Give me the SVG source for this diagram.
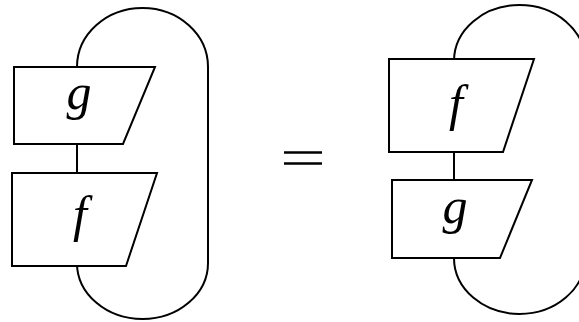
<svg xmlns="http://www.w3.org/2000/svg" width="579" height="322" viewBox="0 0 579 322">
<style>
.box{fill:#fff;stroke:#000;stroke-width:2}
.wire{fill:none;stroke:#000;stroke-width:2}
.eq{fill:none;stroke:#000;stroke-width:2.5}
.lbl{font-family:'Liberation Serif','DejaVu Serif',serif;font-style:italic;font-size:50px;text-anchor:middle;fill:#000}
</style>
<rect width="579" height="322" fill="#fff"/>
<g id="connectors">
<path class="wire" d="M77,67 A65.5,59 0 0 1 208,67 L208,263 A65.5,56 0 0 1 77,263 L77,266"/>
<path class="wire" d="M77,144 L77,173"/>
<path class="wire" d="M454,59 L454,61 A65.5,56 0 0 1 585,61 L585,258 A65.5,56 0 0 1 454,258"/>
<path class="wire" d="M454,152 L454,180"/>
<path class="eq" d="M284,152.5 L322,152.5 M284,163.5 L322,163.5"/>
</g>
<g id="left-g">
<polygon class="box" points="14,67 155,67 123,144 14,144"/>
<text class="lbl" x="79" y="109">g</text>
</g>
<g id="left-f">
<polygon class="box" points="12,173 157,173 126,266 12,266"/>
<text class="lbl" x="80" y="231">f</text>
</g>
<g id="right-f">
<polygon class="box" points="389,59 534,59 503,152 389,152"/>
<text class="lbl" x="456" y="120">f</text>
</g>
<g id="right-g">
<polygon class="box" points="392,180 532,180 500,258 392,258"/>
<text class="lbl" x="455" y="223">g</text>
</g>
</svg>
